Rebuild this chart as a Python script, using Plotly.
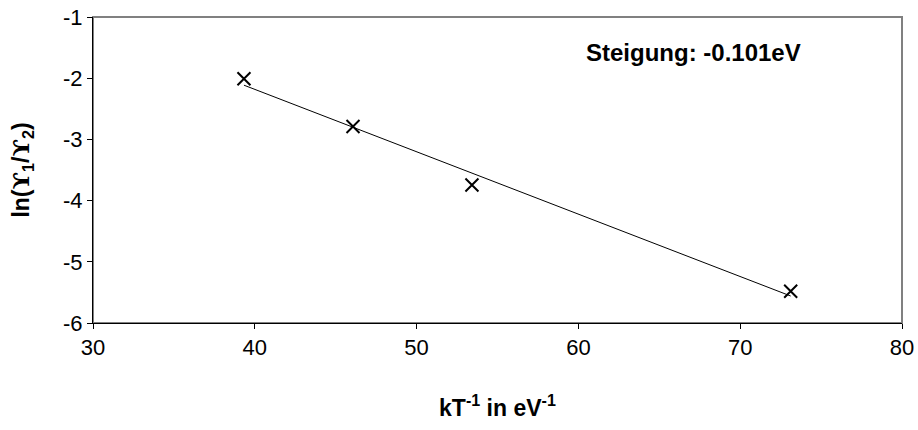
import numpy as np
import plotly.graph_objects as go

x_vals = [39.33, 46.07, 53.42, 73.12]
y_vals = [-2.01, -2.79, -3.745, -5.48]
x_ticks = [30, 40, 50, 60, 70, 80]
y_ticks = [-1, -2, -3, -4, -5, -6]
y_tick_text = ["-1", "-2", "-3", "-4", "-5", "-6"]
slope_label = "Steigung: -0.101eV"

m, b = np.polyfit(x_vals, y_vals, 1)
fit_x = [min(x_vals), max(x_vals)]
fit_y = [m * v + b for v in fit_x]

fig = go.Figure()
fig.add_trace(go.Scatter(x=fit_x, y=fit_y, mode="lines",
                         line=dict(color="black", width=1), showlegend=False))
fig.add_trace(go.Scatter(x=x_vals, y=y_vals, mode="markers",
                         marker=dict(symbol="x-thin", size=13, color="black",
                                     line=dict(color="black", width=2)),
                         showlegend=False))

fig.add_shape(type="rect", xref="paper", yref="paper", x0=0, y0=0, x1=1, y1=1,
              line=dict(color="#808080", width=2), layer="below")

tick_font = dict(family="Liberation Sans, Arial", size=22, color="black")
bold_font = dict(family="Liberation Sans, Arial", size=23, color="black")
fig.add_annotation(x=0.742, y=0.885, xref="paper", yref="paper", xanchor="center", yanchor="middle",
                   text=f"<b>{slope_label}</b>", showarrow=False,
                   font=dict(family="Liberation Sans, Arial", size=24, color="black"))

fig.update_layout(
    width=918, height=430,
    margin=dict(l=93, r=16, t=17, b=107),
    paper_bgcolor="white", plot_bgcolor="white",
    font=tick_font,
    xaxis=dict(range=[30, 80], tickvals=x_ticks, ticks="outside", ticklen=5,
               tickcolor="black", showline=True, linecolor="black", linewidth=1,
               showgrid=False, zeroline=False, tickfont=tick_font, automargin=False,
               title=dict(text="<b>kT<sup>-1</sup> in eV<sup>-1</sup></b>", font=bold_font, standoff=40)),
    yaxis=dict(range=[-6, -1], tickvals=y_ticks, ticktext=y_tick_text, ticks="outside", ticklen=5,
               tickcolor="black", showline=True, linecolor="black", linewidth=1,
               showgrid=False, zeroline=False, tickfont=tick_font, automargin=False,
               title=dict(text="<b>ln(<span style='font-family:DejaVu Serif'>ϒ</span><sub>1</sub>/<span style='font-family:DejaVu Serif'>ϒ</span><sub>2</sub>)</b>",
                          font=bold_font, standoff=26)),
)

fig.write_html("out.html")
